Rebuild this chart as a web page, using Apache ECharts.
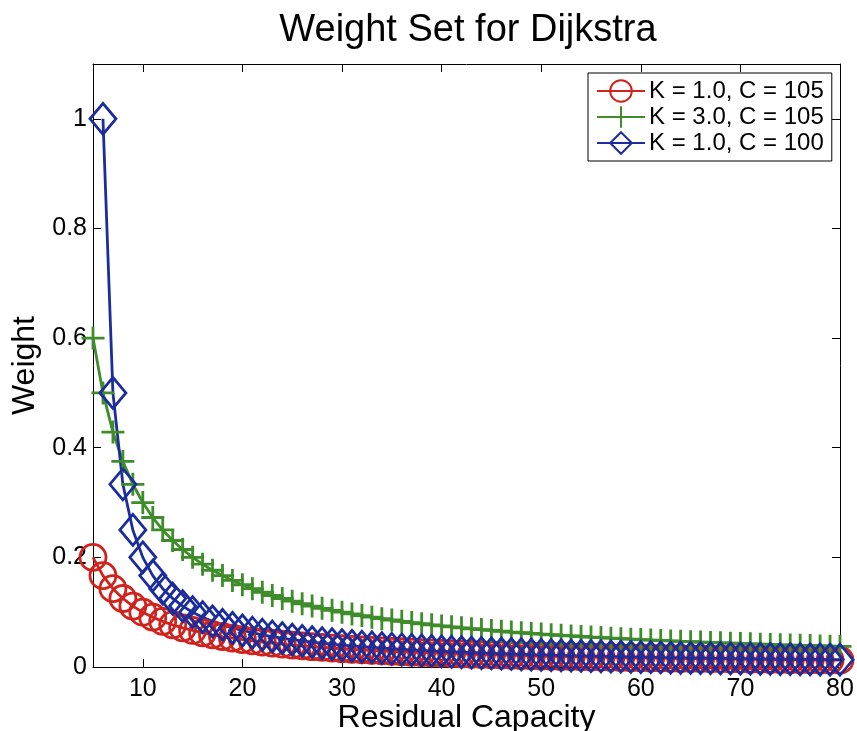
<!DOCTYPE html>
<html>
<head>
<meta charset="utf-8">
<script src="https://cdn.jsdelivr.net/npm/echarts@6/dist/echarts.min.js"></script>
<style>
  html, body { margin: 0; padding: 0; background: #fff; }
  #chart { width: 857px; height: 731px; }
</style>
</head>
<body>
<div id="chart"></div>
<script>
// residual capacity values on the x axis
const capacity = [5, 6, 7, 8, 9, 10, 11, 12, 13, 14, 15, 16, 17, 18, 19, 20,
  21, 22, 23, 24, 25, 26, 27, 28, 29, 30, 31, 32, 33, 34, 35, 36, 37, 38, 39, 40,
  41, 42, 43, 44, 45, 46, 47, 48, 49, 50, 51, 52, 53, 54, 55, 56, 57, 58, 59, 60,
  61, 62, 63, 64, 65, 66, 67, 68, 69, 70, 71, 72, 73, 74, 75, 76, 77, 78, 79, 80];

// K = 1.0, C = 105
const weightK1C105 = [0.2, 0.1667, 0.1429, 0.125, 0.1111, 0.1, 0.0909, 0.0833, 0.0769, 0.0714,
  0.0667, 0.0625, 0.0588, 0.0556, 0.0526, 0.05, 0.0476, 0.0455, 0.0435, 0.0417,
  0.04, 0.0385, 0.037, 0.0357, 0.0345, 0.0333, 0.0323, 0.0313, 0.0303, 0.0294,
  0.0286, 0.0278, 0.027, 0.0263, 0.0256, 0.025, 0.0244, 0.0238, 0.0233, 0.0227,
  0.0222, 0.0217, 0.0213, 0.0208, 0.0204, 0.02, 0.0196, 0.0192, 0.0189, 0.0185,
  0.0182, 0.0179, 0.0175, 0.0172, 0.0169, 0.0167, 0.0164, 0.0161, 0.0159, 0.0156,
  0.0154, 0.0152, 0.0149, 0.0147, 0.0145, 0.0143, 0.0141, 0.0139, 0.0137, 0.0135,
  0.0133, 0.0132, 0.013, 0.0128, 0.0127, 0.0125];

// K = 3.0, C = 105
const weightK3C105 = [0.6, 0.5, 0.4286, 0.375, 0.3333, 0.3, 0.2727, 0.25, 0.2308, 0.2143,
  0.2, 0.1875, 0.1765, 0.1667, 0.1579, 0.15, 0.1429, 0.1364, 0.1304, 0.125,
  0.12, 0.1154, 0.1111, 0.1071, 0.1034, 0.1, 0.0968, 0.0938, 0.0909, 0.0882,
  0.0857, 0.0833, 0.0811, 0.0789, 0.0769, 0.075, 0.0732, 0.0714, 0.0698, 0.0682,
  0.0667, 0.0652, 0.0638, 0.0625, 0.0612, 0.06, 0.0588, 0.0577, 0.0566, 0.0556,
  0.0545, 0.0536, 0.0526, 0.0517, 0.0508, 0.05, 0.0492, 0.0484, 0.0476, 0.0469,
  0.0462, 0.0455, 0.0448, 0.0441, 0.0435, 0.0429, 0.0423, 0.0417, 0.0411, 0.0405,
  0.04, 0.0395, 0.039, 0.0385, 0.038, 0.0375];

// K = 1.0, C = 100 (no point at capacity 5)
const weightK1C100 = [null, 1, 0.5, 0.3333, 0.25, 0.2, 0.1667, 0.1429, 0.125, 0.1111,
  0.1, 0.0909, 0.0833, 0.0769, 0.0714, 0.0667, 0.0625, 0.0588, 0.0556, 0.0526,
  0.05, 0.0476, 0.0455, 0.0435, 0.0417, 0.04, 0.0385, 0.037, 0.0357, 0.0345,
  0.0333, 0.0323, 0.0313, 0.0303, 0.0294, 0.0286, 0.0278, 0.027, 0.0263, 0.0256,
  0.025, 0.0244, 0.0238, 0.0233, 0.0227, 0.0222, 0.0217, 0.0213, 0.0208, 0.0204,
  0.02, 0.0196, 0.0192, 0.0189, 0.0185, 0.0182, 0.0179, 0.0175, 0.0172, 0.0169,
  0.0167, 0.0164, 0.0161, 0.0159, 0.0156, 0.0154, 0.0152, 0.0149, 0.0147, 0.0145,
  0.0143, 0.0141, 0.0139, 0.0137, 0.0135, 0.0133];

const seriesNames = ['K = 1.0, C = 105', 'K = 3.0, C = 105', 'K = 1.0, C = 100'];

const FONT = 'Liberation Sans, Arial, Helvetica, sans-serif';
const RED = '#d0231d';
const GREEN = '#3e8c2a';
const BLUE = '#1b2d9c';
const PLUS = 'path://M0,5L10,5M5,0L5,10';

function pairs(ys) {
  let out = [];
  for (let i = 0; i < capacity.length; i++) {
    if (ys[i] !== null) out.push([capacity[i], ys[i]]);
  }
  return out;
}

function makeSeries(name, ys, color, symbol, size) {
  return {
    name: name,
    type: 'line',
    data: pairs(ys),
    symbol: symbol,
    symbolSize: size,
    showAllSymbol: true,
    clip: false,
    animation: false,
    lineStyle: { color: color, width: 2.8 },
    itemStyle: { color: 'rgba(0,0,0,0)', borderColor: color, borderWidth: 2.8 },
    emphasis: { disabled: true },
  };
}

const chart = echarts.init(document.getElementById('chart'), null, { renderer: 'canvas' });

const axisLine = { show: true, onZero: false, lineStyle: { color: '#000', width: 1 } };
const axisTick = { show: true, inside: true, length: 8, lineStyle: { color: '#000', width: 1 } };

const option = {
  backgroundColor: '#fff',
  title: {
    text: 'Weight Set for Dijkstra',
    left: 463,
    textAlign: 'center',
    top: 7,
    textStyle: { fontFamily: FONT, fontSize: 38, fontWeight: 'normal', color: '#000' },
  },
  legend: {
    data: seriesNames,
    left: 588,
    top: 73,
    orient: 'vertical',
    itemWidth: 48,
    itemHeight: 27,
    itemGap: 2,
    padding: [6, 8, 6, 8],
    borderColor: '#000',
    borderWidth: 1,
    backgroundColor: '#fff',
    textStyle: { fontFamily: FONT, fontSize: 24, color: '#000', padding: [0, 0, 0, -1] },
  },
  grid: { left: 93, right: 17, top: 64, bottom: 64, outerBoundsMode: 'none', containLabel: false },
  xAxis: [
    {
      type: 'value',
      min: 5,
      max: 80,
      splitNumber: 8,
      name: 'Residual Capacity',
      nameLocation: 'middle',
      nameGap: 35,
      nameMoveOverlap: false,
      nameTextStyle: { fontFamily: FONT, fontSize: 32, color: '#000' },
      axisLine: axisLine,
      axisTick: axisTick,
      axisLabel: { fontFamily: FONT, fontSize: 25, color: '#000', margin: 10, showMinLabel: false },
      splitLine: { show: false },
    },
    {
      type: 'value',
      position: 'top',
      min: 5,
      max: 80,
      splitNumber: 8,
      axisLine: axisLine,
      axisTick: axisTick,
      axisLabel: { show: false },
      splitLine: { show: false },
    },
  ],
  yAxis: [
    {
      type: 'value',
      min: 0,
      max: 1.1,
      interval: 0.2,
      name: 'Weight',
      nameLocation: 'middle',
      nameGap: 51,
      nameTextStyle: { fontFamily: FONT, fontSize: 32, color: '#000' },
      axisLine: axisLine,
      axisTick: axisTick,
      axisLabel: { fontFamily: FONT, fontSize: 25, color: '#000', margin: 6, showMaxLabel: false },
      splitLine: { show: false },
    },
    {
      type: 'value',
      position: 'right',
      min: 0,
      max: 1.1,
      interval: 0.2,
      axisLine: axisLine,
      axisTick: axisTick,
      axisLabel: { show: false },
      splitLine: { show: false },
    },
  ],
  series: [
    makeSeries(seriesNames[0], weightK1C105, RED, 'circle', 26),
    makeSeries(seriesNames[1], weightK3C105, GREEN, PLUS, 23),
    makeSeries(seriesNames[2], weightK1C100, BLUE, 'diamond', [26, 31]),
  ],
};

chart.setOption(option);
</script>
</body>
</html>
